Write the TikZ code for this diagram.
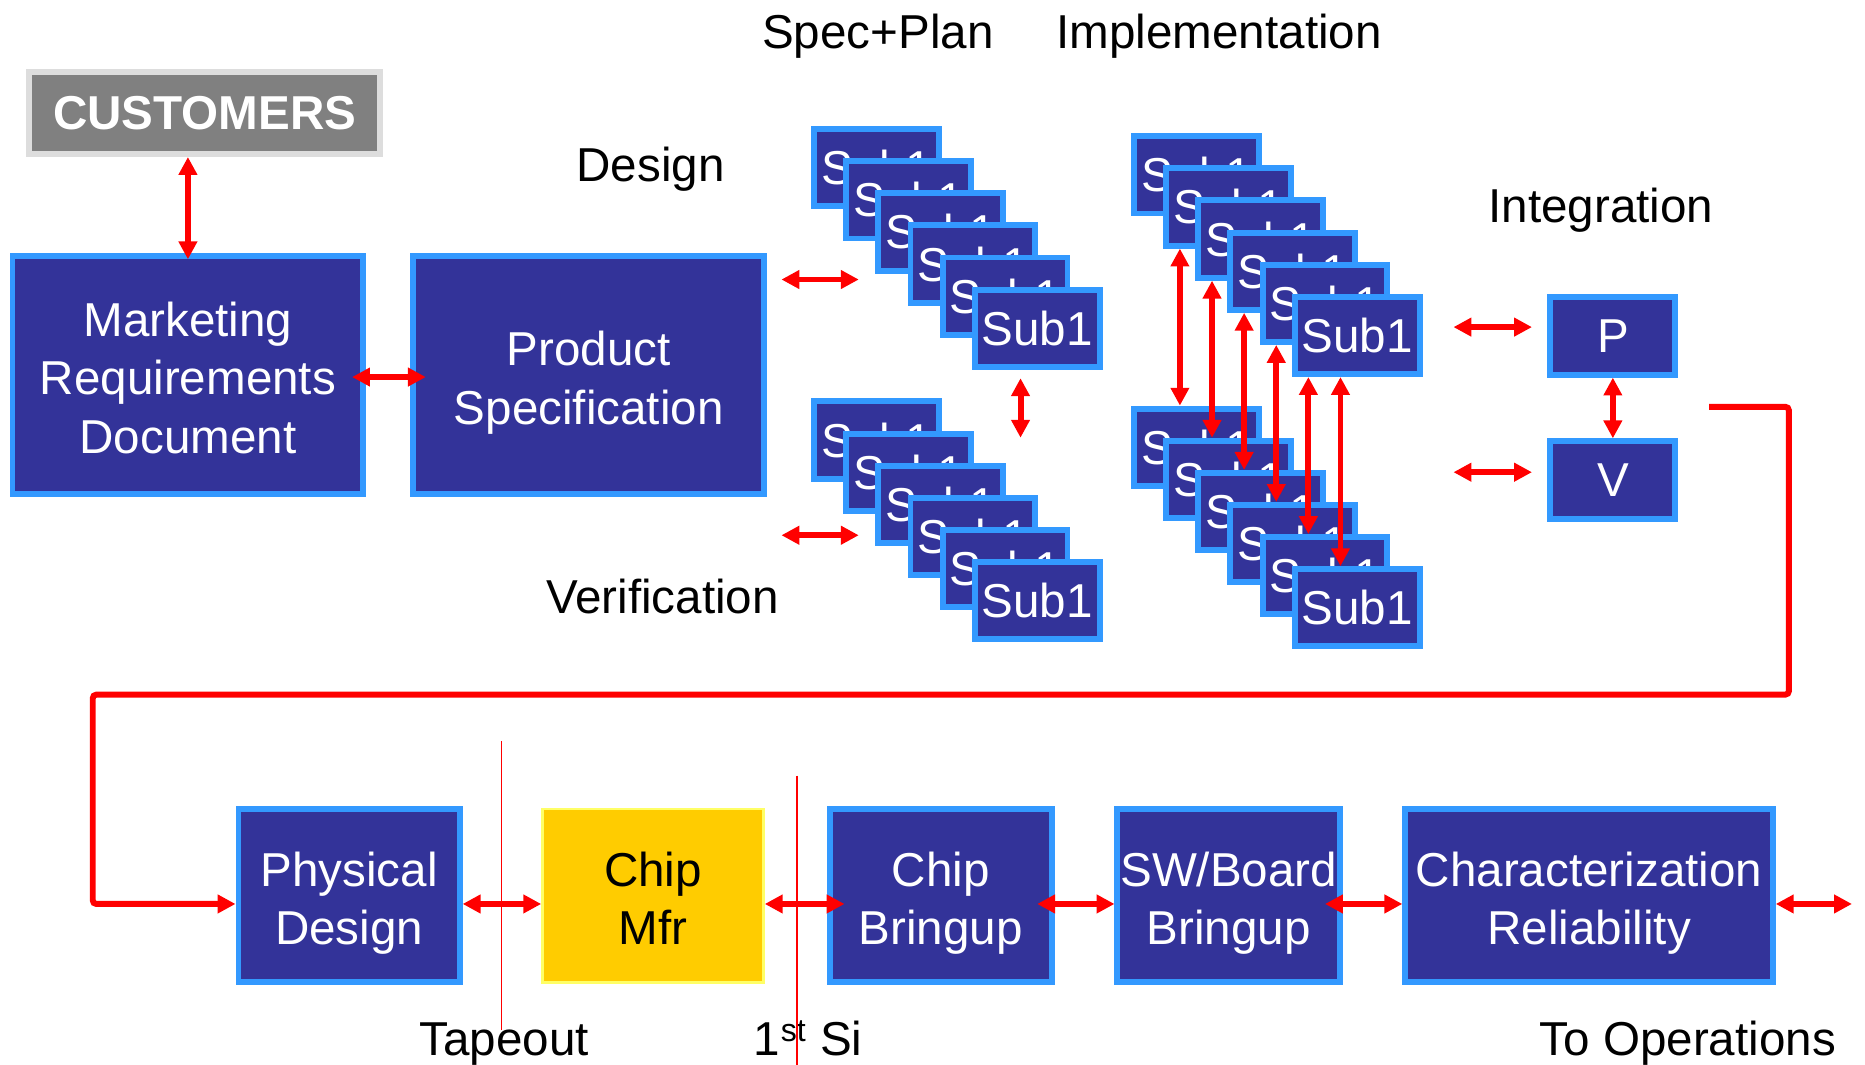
\documentclass[tikz,border=0pt]{standalone}
\usepackage{fontspec}
\setmainfont{Liberation Sans}
\usetikzlibrary{arrows.meta,calc}
\definecolor{boxfill}{HTML}{333399}
\definecolor{boxedge}{HTML}{3399FF}
\definecolor{flowred}{HTML}{FF0000}
\definecolor{fabfill}{HTML}{FFCC00}
\definecolor{fabedge}{HTML}{FFFF66}
\definecolor{custfill}{HTML}{808080}
\definecolor{custedge}{HTML}{DDDDDD}
% invisible struts that fix the height of the first and the depth of the last text line
\newcommand\lnup{\rule{0pt}{42pt}}
\newcommand\lndn{\rule[-9pt]{0pt}{9pt}}
\begin{document}
\begin{tikzpicture}[x=1pt,y=-1pt,
  >={Triangle[length=15pt,width=15pt]},
  txt/.style={font=\fontsize{40}{49}\selectfont},
  stage/.style={txt, draw=boxedge, fill=boxfill, line width=5pt, text=white,
    align=center, inner sep=0pt},
  subbox/.style={stage, minimum width=105pt, minimum height=65pt},
  tagtext/.style={txt, anchor=base, inner sep=0pt, text=black},
  flow/.style={draw=flowred, line width=5pt, <->},
  milestone/.style={draw=flowred, line width=1.3pt}]
\useasboundingbox (0,0) rectangle (1568,895);

% ---- requirements and specification
\node[stage, fill=custfill, draw=custedge, font=\fontsize{40}{49}\selectfont\bfseries,
  minimum width=295pt, minimum height=69pt] (cust) at (172,95) {CUSTOMERS};
\node[stage, minimum width=295pt, minimum height=200pt] (mrd) at (158,315.5)
  {\lnup Marketing\\Requirements\\Document\lndn};
\node[stage, minimum width=295pt, minimum height=200pt] (ps) at (495,315.5)
  {\lnup Product\\Specification\lndn};

% ---- sub-block stacks
\foreach \i in {0,...,5} \node[subbox] (D\i) at ({737+27*\i},{141+27*\i}) {Sub1};
\foreach \i in {0,...,5} \node[subbox] (W\i) at ({737+27*\i},{370+27*\i}) {Sub1};
\foreach \i in {0,...,5} \node[subbox] (T\i) at ({1006+27*\i},{147+27*\i}) {Sub1};
\foreach \i in {0,...,5} \node[subbox] (B\i) at ({1006+27*\i},{376+27*\i}) {Sub1};

% ---- integration
\node[subbox] (integP) at (1356,282.5) {P};
\node[subbox] (integV) at (1356,403.5) {V};

% ---- back end
\node[stage, minimum width=186pt, minimum height=145pt] (pd) at (293.5,753)
  {\lnup Physical\\Design\lndn};
\node[txt, draw=fabedge, fill=fabfill, line width=2pt, text=black, align=center,
  inner sep=0pt, minimum width=186pt, minimum height=146pt] (mfr) at (549,753)
  {\lnup Chip\\Mfr\lndn};
\node[stage, minimum width=187pt, minimum height=145pt] (cb) at (791,753)
  {\lnup Chip\\Bringup\lndn};
\node[stage, minimum width=187pt, minimum height=145pt] (sw) at (1033,753)
  {\lnup SW/Board\\Bringup\lndn};
\node[stage, minimum width=309pt, minimum height=145pt] (char) at (1336,753)
  {\lnup Characterization\\Reliability\lndn};

% ---- captions
\node[tagtext] (specplan) at (738,41) {Spec+Plan};
\node[tagtext] (implcap) at (1025,41) {Implementation};
\node[tagtext] (designcap) at (547,153) {Design};
\node[tagtext] (integcap) at (1346,187) {Integration};
\node[tagtext] (verifcap) at (557,516) {Verification};
\node[tagtext] (tapecap) at (424,887) {Tapeout};
\node[tagtext, anchor=base west] (sicap) at (633,887)
  {1\hspace{1pt}\raisebox{11pt}{\fontsize{27}{27}\selectfont st}\hspace{1pt} Si};
\node[tagtext] (opscap) at (1419,887) {To Operations};

% ---- two-way links
\draw[flow] (cust.south -| mrd.north) -- ($(mrd.north)+(0,5)$);
\draw[flow] ($(mrd.east)+(-12,1.5)$) -- ($(ps.west)+(13,1.5)$);
\draw[flow] ($(ps.east)+(12,-80.5)$) -- ($(ps.east)+(77,-80.5)$);
\draw[flow] ($(ps.east)+(12,134.5)$) -- ($(ps.east)+(77,134.5)$);
\draw[flow] ($(D5.south)+(-14,7)$) -- ($(D5.south)+(-14,57)$);
\foreach \k/\j in {0/1,1/2,2/3,3/4,4/5,5/5}
  \draw[flow] ($(T\j.south west)+({41+27*(\k-\j)},0)$) -- ($(B\k.north west)+(41,0)$);
\draw[flow] ($(T5.east)+(26,-7)$) -- ($(integP.west)+(-13,-7.5)$);
\draw[flow] ($(integV.west)+(-79,-6.5)$) -- ($(integV.west)+(-13,-6.5)$);
\draw[flow] (integP.south) -- (integV.north);

\draw[flow] ($(pd.east)+(0,7)$) -- ($(mfr.west)+(0,7)$);
\draw[flow] ($(mfr.east)+(0,7)$) -- ($(cb.west)+(15,7)$);
\draw[flow] ($(cb.east)+(-15,7)$) -- ($(sw.west)+(0,7)$);
\draw[flow] ($(sw.east)+(-15,7)$) -- ($(char.west)+(0,7)$);
\coordinate (opsend) at (1557,760);
\draw[flow] ($(char.east)+(0,7)$) -- (opsend);

% ---- hand-off from integration to physical design
\coordinate (feed) at (1437,342);
\draw[draw=flowred, line width=5pt, rounded corners=3pt, ->]
  (feed) -- (1504,342) -- (1504,584) -- (78,584) -- (78,760) -- ($(pd.west)+(0,7)$);

% ---- milestones
\draw[milestone] (421.5,623) -- (421.5,866);
\draw[milestone] (670,652) -- (670,895);
\end{tikzpicture}
\end{document}
